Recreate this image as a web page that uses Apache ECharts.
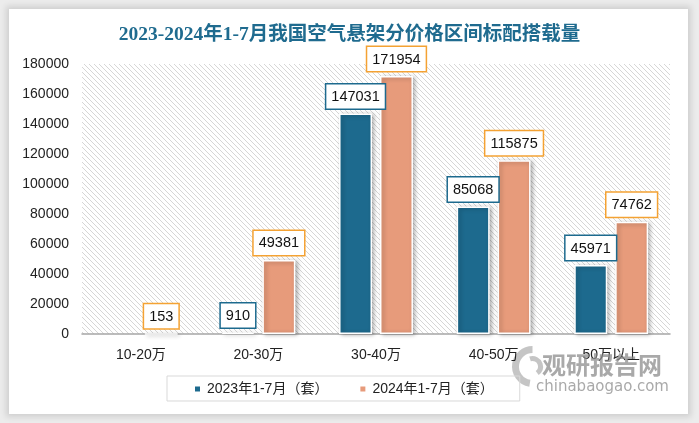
<!DOCTYPE html>
<html>
<head>
<meta charset="utf-8">
<script src="https://cdn.jsdelivr.net/npm/echarts@6/dist/echarts.min.js"></script>
<style>
html,body{margin:0;padding:0;width:699px;height:423px;overflow:hidden;background:#ececec;}
#card{position:absolute;left:9px;top:9px;width:679px;height:405px;background:#fff;box-shadow:0 0 6px 3px rgba(0,0,0,0.12);}
#chart{position:absolute;left:0;top:0;width:699px;height:423px;}
</style>
</head>
<body>
<div id="card"></div>
<div id="chart"></div>
<script>
const titleText = '2023-2024年1-7月我国空气悬架分价格区间标配搭载量';
const categories = ['10-20万', '20-30万', '30-40万', '40-50万', '50万以上'];
const seriesNames = ['2023年1-7月（套）', '2024年1-7月（套）'];
const values2023 = ['-', 910, 147031, 85068, 45971];
const values2024 = [153, 49381, 171954, 115875, 74762];
const yMin = 0, yMax = 180000, yInterval = 20000;

const blue = '#1d6a8e';
const orange = '#e79b7b';
const orangeBorder = '#f4a233';

// diagonal hatch pattern for plot background
const pc = document.createElement('canvas');
pc.width = 5; pc.height = 5;
const g = pc.getContext('2d');
g.fillStyle = '#ffffff'; g.fillRect(0,0,5,5);
g.strokeStyle = '#d6d6d6'; g.lineWidth = 1;
g.beginPath();
g.moveTo(-1,-1); g.lineTo(6,6);
g.moveTo(-1,4); g.lineTo(1,6);
g.moveTo(4,-1); g.lineTo(6,1);
g.stroke();

const chart = echarts.init(document.getElementById('chart'), null, {renderer:'canvas'});
const labelBase = {
  show: true, position: 'top', distance: 5,
  color: '#111', fontSize: 14.5, fontFamily: 'Liberation Sans, Arial, sans-serif',
  backgroundColor: '#fff', borderWidth: 1.5, padding: [5, 5, 4, 5]
};
const barItem = (c) => ({color: c, borderColor: '#fff', borderWidth: 1.5,
  shadowColor: 'rgba(0,0,0,0.3)', shadowBlur: 4, shadowOffsetX: 2, shadowOffsetY: 1});

chart.setOption({
  backgroundColor: 'transparent',
  animation: false,
  title: {
    text: titleText, left: 'center', top: 20,
    textStyle: {color: '#1f6b8f', fontSize: 19.5, fontWeight: 'bold', fontFamily: 'Liberation Serif, Noto Sans CJK SC, serif'}
  },
  grid: {left: 82, right: 29, top: 64, bottom: 89, show: true, borderWidth: 0,
    backgroundColor: {image: pc, repeat: 'repeat'}},
  legend: {
    data: seriesNames, left: 167, top: 376,
    itemWidth: 7, itemHeight: 7, itemGap: 30, icon: 'rect',
    borderColor: '#d9d9d9', borderWidth: 1, padding: [6, 26, 5, 26],
    textStyle: {fontSize: 14, color: '#222', fontFamily: 'Liberation Sans, Noto Sans CJK SC, sans-serif', padding: [0,0,0,1]}
  },
  xAxis: {
    type: 'category', data: categories,
    axisLine: {lineStyle: {color: '#a6a6a6', width: 1.5}},
    axisTick: {show: false},
    axisLabel: {color: '#222', fontSize: 14, margin: 14, fontFamily: 'Liberation Sans, Noto Sans CJK SC, sans-serif'}
  },
  yAxis: {
    type: 'value', min: yMin, max: yMax, interval: yInterval,
    axisLine: {show: false}, axisTick: {show: false}, splitLine: {show: false},
    axisLabel: {color: '#222', fontSize: 14, margin: 13, fontFamily: 'Liberation Sans, Arial, sans-serif',
      formatter: (v) => String(v)}
  },
  series: [
    {name: seriesNames[0], type: 'bar', data: values2023, barWidth: 33, barGap: '24%',
      itemStyle: barItem(blue), label: Object.assign({}, labelBase, {borderColor: blue})},
    {name: seriesNames[1], type: 'bar', data: values2024, barWidth: 33,
      itemStyle: barItem(orange), label: Object.assign({}, labelBase, {borderColor: orangeBorder})}
  ],
  graphic: [
    {type: 'group', left: 512, top: 346, z: 100, children: [
      {type: 'arc', shape: {cx: 22, cy: 22, r: 17, startAngle: Math.PI*0.55, endAngle: Math.PI*1.5}, style: {stroke: 'rgba(150,150,150,0.55)', lineWidth: 7, fill: null}},
      {type: 'arc', shape: {cx: 22, cy: 22, r: 8, startAngle: Math.PI*1.4, endAngle: Math.PI*2.3}, style: {stroke: 'rgba(150,150,150,0.55)', lineWidth: 5, fill: null}}
    ]},
    {type: 'text', left: 542, top: 353, z: 100, style: {text: '观研报告网', fill: 'rgba(140,140,140,0.75)', fontSize: 24, fontWeight: 'bold', fontFamily: 'Noto Sans CJK SC'}},
    {type: 'text', left: 536, top: 380, z: 100, style: {text: 'chinabaogao.com', fill: 'rgba(140,140,140,0.75)', fontSize: 15, fontFamily: 'DejaVu Sans'}}
  ]
});
</script>
</body>
</html>
